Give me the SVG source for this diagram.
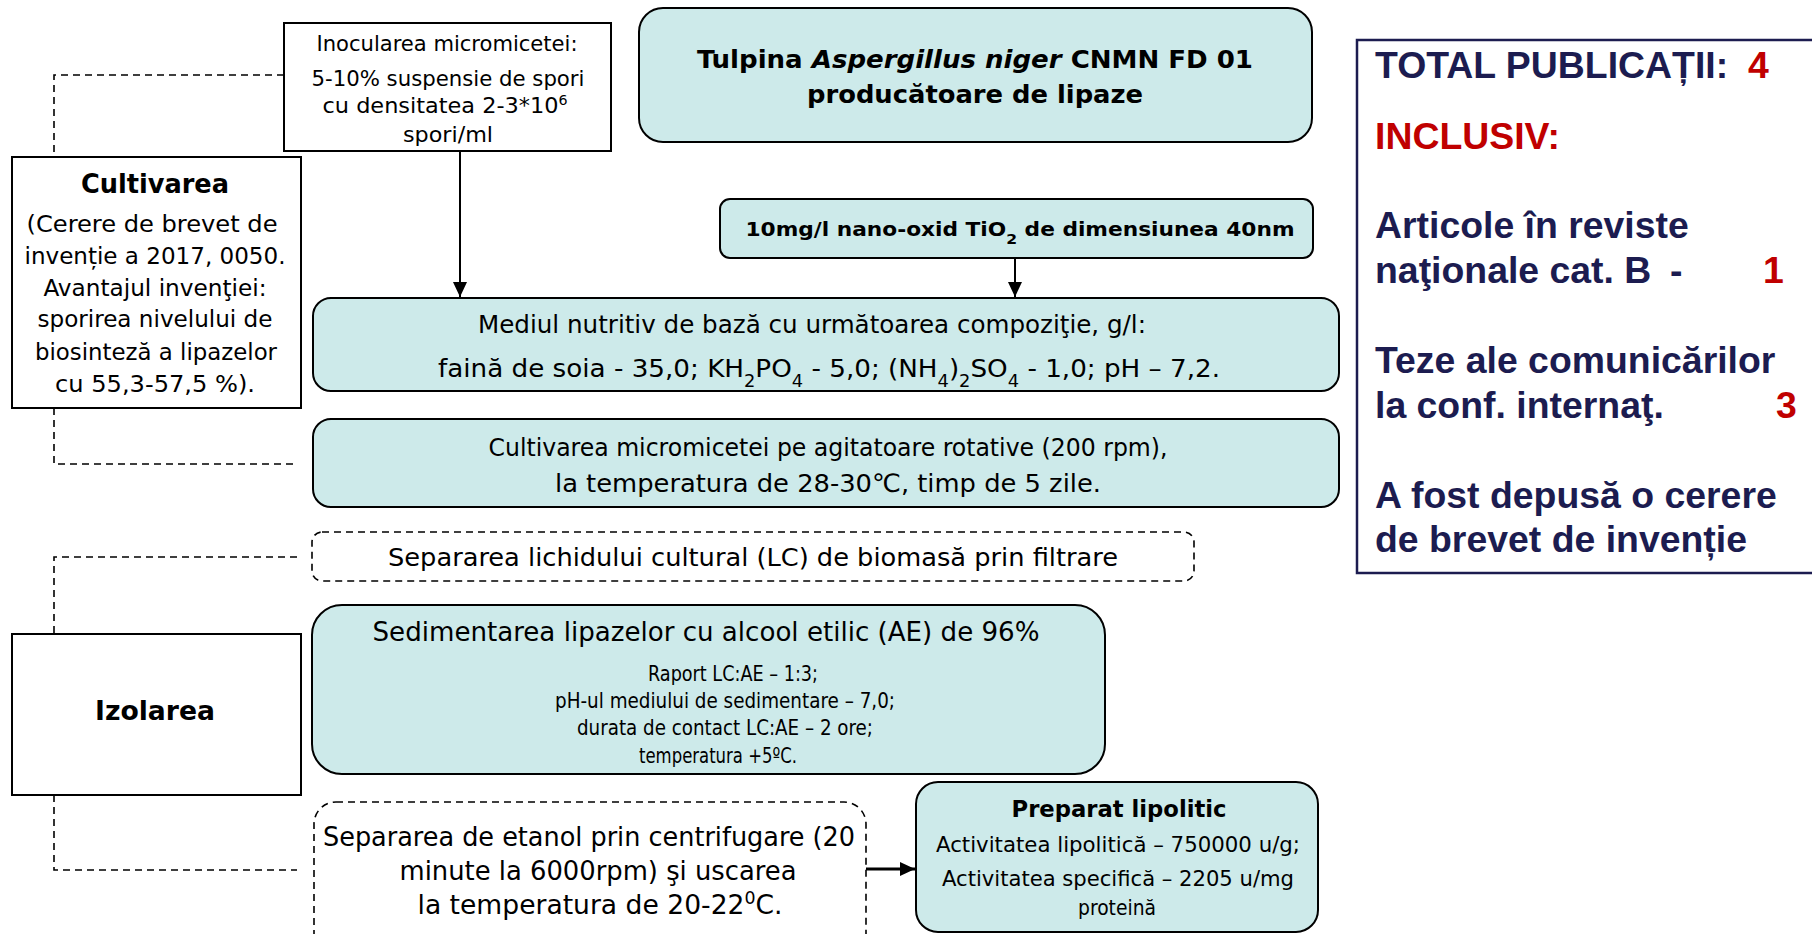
<svg xmlns="http://www.w3.org/2000/svg" width="1812" height="934" viewBox="0 0 1812 934">
<style>
.box{fill:#fff;stroke:#000;stroke-width:2}
.tl{fill:#CDEAEA;stroke:#000;stroke-width:2}
.dbox{fill:#fff;stroke:#000;stroke-width:1.6;stroke-dasharray:7 5}
.dash{fill:none;stroke:#000;stroke-width:1.6;stroke-dasharray:7 5}
.arr{fill:none;stroke:#000;stroke-width:2}
.t{font-family:"DejaVu Sans Condensed","DejaVu Sans",sans-serif;fill:#000;text-anchor:middle}
.b{font-weight:bold}
.r{font-family:"Liberation Sans",Arial,sans-serif;font-weight:bold;font-size:37.4px;fill:#1C1C50}
.red{fill:#C00000}
</style>
<defs>
<marker id="ah" markerUnits="userSpaceOnUse" markerWidth="16" markerHeight="16" refX="15" refY="7" orient="auto">
<path d="M0,0 L15,7 L0,14 Z" fill="#000"/>
</marker>
</defs>

<g id="connectors">
<path class="dash" d="M284,75 H54 V157"/>
<path class="dash" d="M54,408 V464 H297"/>
<path class="dash" d="M297,557 H54 V634"/>
<path class="dash" d="M54,795 V870 H297"/>
<line class="arr" x1="460" y1="151" x2="460" y2="297" marker-end="url(#ah)"/>
<line class="arr" x1="1015" y1="258" x2="1015" y2="297" marker-end="url(#ah)"/>
<line class="arr" style="stroke-width:3" x1="866" y1="869" x2="915" y2="869" marker-end="url(#ah)"/>
</g>

<g id="inocularea">
<rect class="box" x="284" y="23" width="327" height="128"/>
<text class="t" x="447" y="51" font-size="21" textLength="261" lengthAdjust="spacingAndGlyphs">Inocularea micromicetei:</text>
<text class="t" x="448" y="86" font-size="22" textLength="273" lengthAdjust="spacingAndGlyphs">5-10% suspensie de spori</text>
<text class="t" x="445" y="113" font-size="22" textLength="245" lengthAdjust="spacingAndGlyphs">cu densitatea 2-3*10<tspan font-size="14" baseline-shift="super">6</tspan></text>
<text class="t" x="448" y="142" font-size="22" textLength="90" lengthAdjust="spacingAndGlyphs">spori/ml</text>
</g>

<g id="tulpina">
<rect class="tl" x="639" y="8" width="673" height="134" rx="24"/>
<text class="t b" x="975" y="68" font-size="24" textLength="556" lengthAdjust="spacingAndGlyphs">Tulpina <tspan font-style="italic">Aspergillus niger</tspan> CNMN FD 01</text>
<text class="t b" x="975" y="103" font-size="24" textLength="336" lengthAdjust="spacingAndGlyphs">producătoare de lipaze</text>
</g>

<g id="publicatii">
<rect x="1357" y="40" width="470" height="533" fill="#fff" stroke="#1C1C50" stroke-width="2.5"/>
<text class="r" x="1375" y="78">TOTAL PUBLICAȚII:</text>
<text class="r red" x="1748" y="78">4</text>
<text class="r red" x="1375" y="149">INCLUSIV:</text>
<text class="r" x="1375" y="238">Articole în reviste</text>
<text class="r" x="1375" y="283">naţionale cat. B<tspan x="1670">-</tspan></text>
<text class="r red" x="1763" y="283">1</text>
<text class="r" x="1375" y="373">Teze ale comunicărilor</text>
<text class="r" x="1375" y="418">la conf. internaţ.</text>
<text class="r red" x="1776" y="418">3</text>
<text class="r" x="1375" y="508">A fost depusă o cerere</text>
<text class="r" x="1375" y="552">de brevet de invenție</text>
</g>

<g id="cultivarea">
<rect class="box" x="12" y="157" width="289" height="251"/>
<text class="t b" x="155" y="193" font-size="26" textLength="148" lengthAdjust="spacingAndGlyphs">Cultivarea</text>
<text class="t" x="152" y="232" font-size="23" textLength="251" lengthAdjust="spacingAndGlyphs">(Cerere de brevet de</text>
<text class="t" x="155" y="264" font-size="23" textLength="261" lengthAdjust="spacingAndGlyphs">invenție a 2017, 0050.</text>
<text class="t" x="155" y="296" font-size="23" textLength="223" lengthAdjust="spacingAndGlyphs">Avantajul invenţiei:</text>
<text class="t" x="155" y="327" font-size="23" textLength="235" lengthAdjust="spacingAndGlyphs">sporirea nivelului de</text>
<text class="t" x="156" y="360" font-size="23" textLength="242" lengthAdjust="spacingAndGlyphs">biosinteză a lipazelor</text>
<text class="t" x="155" y="392" font-size="23" textLength="200" lengthAdjust="spacingAndGlyphs">cu 55,3-57,5 %).</text>
</g>

<g id="tio2">
<rect class="tl" x="720" y="199" width="593" height="59" rx="10"/>
<text class="t b" x="1020" y="236" font-size="19.5" textLength="549" lengthAdjust="spacingAndGlyphs">10mg/l nano-oxid TiO<tspan font-size="14" baseline-shift="sub">2</tspan> de dimensiunea 40nm</text>
</g>

<g id="mediul">
<rect class="tl" x="313" y="298" width="1026" height="93" rx="18"/>
<text class="t" x="812" y="333" font-size="25" textLength="668" lengthAdjust="spacingAndGlyphs">Mediul nutritiv de bază cu următoarea compoziţie, g/l:</text>
<text class="t" x="829" y="377" font-size="25" textLength="782" lengthAdjust="spacingAndGlyphs">faină de soia - 35,0; KH<tspan font-size="17" baseline-shift="sub">2</tspan>PO<tspan font-size="17" baseline-shift="sub">4</tspan> - 5,0; (NH<tspan font-size="17" baseline-shift="sub">4</tspan>)<tspan font-size="17" baseline-shift="sub">2</tspan>SO<tspan font-size="17" baseline-shift="sub">4</tspan> - 1,0; pH – 7,2.</text>
</g>

<g id="cultivare-micromicete">
<rect class="tl" x="313" y="419" width="1026" height="88" rx="18"/>
<text class="t" x="828" y="456" font-size="25" textLength="679" lengthAdjust="spacingAndGlyphs">Cultivarea micromicetei pe agitatoare rotative (200 rpm),</text>
<text class="t" x="828" y="492" font-size="25" textLength="546" lengthAdjust="spacingAndGlyphs">la temperatura de 28-30℃, timp de 5 zile.</text>
</g>

<g id="separare-lc">
<rect class="dbox" x="312" y="532" width="882" height="49" rx="10"/>
<text class="t" x="753" y="566" font-size="24" textLength="730" lengthAdjust="spacingAndGlyphs">Separarea lichidului cultural (LC) de biomasă prin filtrare</text>
</g>

<g id="sedimentarea">
<rect class="tl" x="312" y="605" width="793" height="169" rx="30"/>
<text class="t" x="706" y="641" font-size="26" textLength="667" lengthAdjust="spacingAndGlyphs">Sedimentarea lipazelor cu alcool etilic (AE) de 96%</text>
<text class="t" x="733" y="681" font-size="21" textLength="170" lengthAdjust="spacingAndGlyphs">Raport LC:AE – 1:3;</text>
<text class="t" x="725" y="708" font-size="21" textLength="340" lengthAdjust="spacingAndGlyphs">pH-ul mediului de sedimentare – 7,0;</text>
<text class="t" x="725" y="735" font-size="21" textLength="296" lengthAdjust="spacingAndGlyphs">durata de contact LC:AE – 2 ore;</text>
<text class="t" x="718" y="763" font-size="21" textLength="158" lengthAdjust="spacingAndGlyphs">temperatura +5ºC.</text>
</g>

<g id="izolarea">
<rect class="box" x="12" y="634" width="289" height="161"/>
<text class="t b" x="155" y="720" font-size="27" textLength="120" lengthAdjust="spacingAndGlyphs">Izolarea</text>
</g>

<g id="separare-etanol">
<rect class="dbox" x="314" y="802" width="552" height="165" rx="22"/>
<text class="t" x="589" y="846" font-size="26" textLength="532" lengthAdjust="spacingAndGlyphs">Separarea de etanol prin centrifugare (20</text>
<text class="t" x="598" y="880" font-size="26" textLength="397" lengthAdjust="spacingAndGlyphs">minute la 6000rpm) şi uscarea</text>
<text class="t" x="600" y="914" font-size="26" textLength="365" lengthAdjust="spacingAndGlyphs">la temperatura de 20-22<tspan font-size="17" baseline-shift="super">0</tspan>C.</text>
</g>

<g id="preparat">
<rect class="tl" x="916" y="782" width="402" height="150" rx="22"/>
<text class="t b" x="1119" y="817" font-size="23" textLength="215" lengthAdjust="spacingAndGlyphs">Preparat lipolitic</text>
<text class="t" x="1118" y="852" font-size="21" textLength="364" lengthAdjust="spacingAndGlyphs">Activitatea lipolitică – 750000 u/g;</text>
<text class="t" x="1118" y="886" font-size="21" textLength="352" lengthAdjust="spacingAndGlyphs">Activitatea specifică – 2205 u/mg</text>
<text class="t" x="1117" y="915" font-size="21" textLength="78" lengthAdjust="spacingAndGlyphs">proteină</text>
</g>
</svg>
